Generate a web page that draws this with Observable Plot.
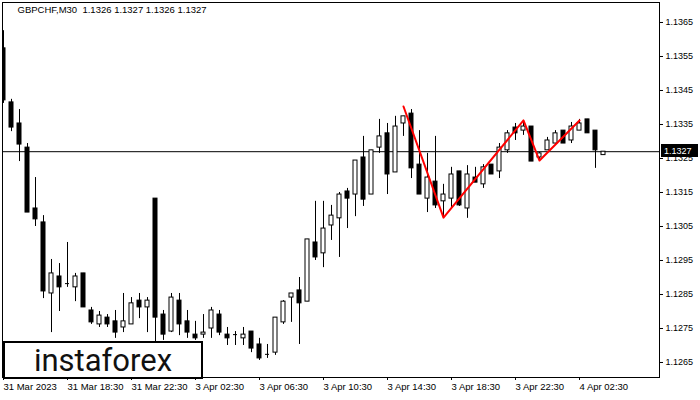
<!DOCTYPE html>
<html>
<head>
<meta charset="utf-8">
<script src="https://cdn.jsdelivr.net/npm/d3@7"></script>
<script src="https://cdn.jsdelivr.net/npm/@observablehq/plot@0.6"></script>
<style>
  html, body { margin: 0; padding: 0; background: white; }
  #wrap { position: relative; width: 700px; height: 400px; overflow: hidden; }
  #logo {
    position: absolute; left: 3px; top: 341px; width: 200px; height: 38px;
    box-sizing: border-box; border: 2px solid black; background: white;
    font-family: Roboto, "Liberation Sans", sans-serif; font-size: 31px;
    line-height: 34px; text-align: center; color: #111; padding-top: 1px;
  }
</style>
</head>
<body>
<div id="wrap"><div id="logo">instaforex</div></div>
<script>
// ---- data ----
const title = "GBPCHF,M30  1.1326 1.1327 1.1326 1.1327";
const opens = [1.13574,1.13415,1.13353,1.13282,1.13103,1.13062,1.12853,1.12903,1.12882,1.12871,
  1.12912,1.12803,1.12762,1.12782,1.12771,1.12753,1.12762,1.12832,1.12812,1.13132,
  1.12791,1.12741,1.12832,1.12771,1.12732,1.12732,1.12750,1.12791,1.12732,1.12732,
  1.12721,1.12741,1.12703,1.12674,1.12679,1.12768,1.12841,1.12862,1.12829,1.13003,
  1.12971,1.13053,1.13074,1.13153,1.13144,1.13253,1.13144,1.13282,1.13324,1.13209,
  1.13353,1.13382,1.13232,1.13132,1.13182,1.13124,1.13132,1.13212,1.13103,1.13194,
  1.13174,1.13232,1.13212,1.13274,1.13341,1.13332,1.13344,1.13253,1.13274,1.13294,
  1.13332,1.13303,1.13332,1.13365,1.13332,1.1326];
const highs = [1.13626,1.13424,1.13394,1.13294,1.13194,1.13082,1.12953,1.12941,1.13003,1.12912,
  1.12912,1.12812,1.12800,1.12791,1.12803,1.12853,1.12841,1.12853,1.12841,1.13132,
  1.12803,1.12853,1.12853,1.12803,1.12771,1.12791,1.12812,1.12803,1.12753,1.12741,
  1.12753,1.12741,1.12721,1.12703,1.12782,1.12832,1.12853,1.12900,1.13012,1.13124,
  1.13124,1.13112,1.13150,1.13162,1.13244,1.13315,1.13274,1.13365,1.13353,1.13374,
  1.13374,1.13394,1.13332,1.13265,1.13315,1.13174,1.13224,1.13212,1.13229,1.13224,
  1.13232,1.13232,1.13294,1.13332,1.13353,1.13356,1.13344,1.13268,1.13312,1.13332,
  1.13332,1.13356,1.13365,1.13365,1.13332,1.1327];
const lows = [1.13412,1.13329,1.13241,1.13091,1.13050,1.12838,1.12738,1.12800,1.12871,1.12829,
  1.12812,1.12762,1.12753,1.12753,1.12721,1.12738,1.12762,1.12779,1.12738,1.12700,
  1.12715,1.12738,1.12729,1.12721,1.12715,1.12721,1.12721,1.12729,1.12700,1.12700,
  1.12700,1.12679,1.12656,1.12662,1.12671,1.12762,1.12768,1.12703,1.12829,1.12950,
  1.12929,1.13009,1.12959,1.13044,1.13079,1.13109,1.13144,1.13265,1.13144,1.13209,
  1.13315,1.13191,1.13144,1.13091,1.13103,1.13074,1.13103,1.13109,1.13074,1.13179,
  1.13162,1.13203,1.13191,1.13265,1.13303,1.13318,1.13241,1.13244,1.13274,1.13288,
  1.13294,1.13294,1.13332,1.13324,1.13221,1.1326];
const closes = [1.13421,1.13341,1.13291,1.13091,1.13071,1.12859,1.12912,1.12871,1.12882,1.12903,
  1.12812,1.12768,1.12788,1.12762,1.12738,1.12771,1.12824,1.12812,1.12832,1.12782,
  1.12732,1.12841,1.12762,1.12738,1.12721,1.12738,1.12803,1.12738,1.12721,1.12732,
  1.12732,1.12691,1.12662,1.12674,1.12782,1.12829,1.12853,1.12824,1.13012,1.12959,
  1.13044,1.13082,1.13144,1.13132,1.13244,1.13129,1.13274,1.13315,1.13203,1.13344,
  1.13374,1.13221,1.13144,1.13194,1.13112,1.13144,1.13203,1.13112,1.13203,1.13179,
  1.13224,1.13203,1.13282,1.13324,1.13324,1.13344,1.13241,1.13265,1.13303,1.13324,
  1.13294,1.13344,1.13353,1.13324,1.13274,1.1327];
const tickBars = [0, 8, 16, 24, 32, 40, 48, 56, 64, 72];
const tickLabels = ["31 Mar 2023","31 Mar 18:30","31 Mar 22:30","3 Apr 02:30","3 Apr 06:30",
  "3 Apr 10:30","3 Apr 14:30","3 Apr 18:30","3 Apr 22:30","4 Apr 02:30"];
const priceTicks = [1.1265,1.1275,1.1285,1.1295,1.1305,1.1315,1.1325,1.1335,1.1345,1.1355,1.1365];
const patternBars = [50, 55, 65, 67, 72];
const patternPrices = [1.13403, 1.13076, 1.13362, 1.13244, 1.13362];
const lastPrice = 1.1327;

// ---- tables built from the arrays ----
const candles = opens.map((o, i) => ({i, o, h: highs[i], l: lows[i], c: closes[i]}));
const bulls = candles.filter(d => d.c > d.o);
const bears = candles.filter(d => d.c < d.o);
const dojis = candles.filter(d => d.c === d.o);
const pattern = patternBars.map((b, k) => ({i: b, p: patternPrices[k]}));
const tickMap = new Map(tickBars.map((b, k) => [b, tickLabels[k]]));

const chart = Plot.plot({
  width: 700, height: 400,
  marginLeft: 2, marginRight: 41, marginTop: 2, marginBottom: 23,
  style: {fontFamily: "'Liberation Sans', Arial, sans-serif", fontSize: "10px", background: "white", color: "black", overflow: "visible"},
  x: {type: "linear", domain: [-0.125, 82]},
  y: {type: "linear", domain: [1.126058823, 1.137088235]},
  marks: [
    Plot.ruleY([lastPrice], {stroke: "black"}),
    Plot.ruleX(candles, {x: "i", y1: "l", y2: "h", stroke: "black", clip: true}),
    Plot.rect(bears, {x1: d => d.i - 0.25, x2: d => d.i + 0.25, y1: "o", y2: "c", fill: "black", stroke: "black", clip: true}),
    Plot.rect(bulls, {x1: d => d.i - 0.25, x2: d => d.i + 0.25, y1: "o", y2: "c", fill: "white", stroke: "black", clip: true}),
    Plot.ruleY(dojis, {y: "o", x1: d => d.i - 0.25, x2: d => d.i + 0.25, stroke: "black", clip: true}),
    Plot.line(pattern, {x: "i", y: "p", stroke: "red", strokeWidth: 2}),
    Plot.frame({stroke: "black"}),
    Plot.axisX({ticks: tickBars, tickFormat: d => tickMap.get(d), textAnchor: "start", tickSize: 3, tickPadding: 3, label: null, fontSize: 9.5}),
    Plot.axisY({anchor: "right", ticks: priceTicks, tickFormat: d => d.toFixed(4), tickSize: 3, tickPadding: 3, label: null, fontSize: 9}),
    Plot.text([title], {frameAnchor: "top-left", dx: 15, dy: 4, lineAnchor: "top", textAnchor: "start", fontSize: 9.5})
  ]
});

// current price marker on the right axis, positioned with the chart's y scale
const ys = chart.scale("y");
const yy = Math.round(ys.apply(lastPrice));
const svg = d3.select(chart);
svg.append("rect").attr("x", 661).attr("y", yy - 7).attr("width", 37).attr("height", 13).attr("fill", "black");
svg.append("text").attr("x", 664).attr("y", yy).attr("dy", "0.35em").attr("fill", "white")
  .attr("text-anchor", "start").attr("font-size", 9).text(lastPrice.toFixed(4));

const wrap = document.getElementById("wrap");
wrap.insertBefore(chart, wrap.firstChild);
chart.style.position = "absolute";
chart.style.left = "0";
chart.style.top = "0";
</script>
</body>
</html>
